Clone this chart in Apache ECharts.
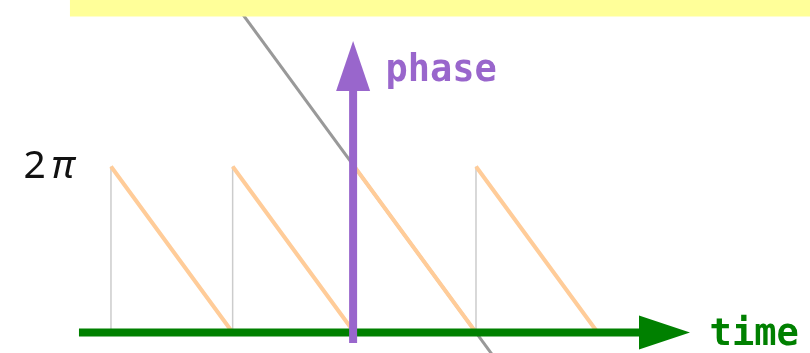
<!DOCTYPE html>
<html>
<head>
<meta charset="utf-8">
<script src="https://cdn.jsdelivr.net/npm/echarts@6/dist/echarts.min.js"></script>
<style>
  html, body { margin: 0; padding: 0; background: #fff; }
  #main { width: 810px; height: 353px; }
</style>
</head>
<body>
<div id="main"></div>
<script>
// time in periods, phase in units of pi
let sawStarts = [0, 1, 2, 3];          // each period starts at phase 2pi and falls to 0
let sawTop = 2;
let sawBottom = 0;
let wrapLines = [0, 1, 2, 3];           // thin gray jumps back to 2pi
let unwrapped = [[1.0, 4.0], [3.2, -0.4]];   // continuous (unwrapped) phase
let band = [-0.337, 3.807, 6, 4.1];     // yellow band: x0, y0, x1, y1
let phaseArrow = [1.99, -0.127, 1.99, 3.512];
let timeArrow = [-0.263, 0, 4.759, 0];

function segments(starts) {
    let out = [];
    starts.forEach(function(s) {
        out.push([s, sawTop]);
        out.push([s + 1, sawBottom]);
        out.push(null);
    });
    return out;
}

function verticals(xs) {
    let out = [];
    xs.forEach(function(x) {
        out.push([x, sawBottom]);
        out.push([x, sawTop]);
        out.push(null);
    });
    return out;
}

function arrowItem(color, shaft, headLen, headWidth) {
    return function(params, api) {
        let a = api.coord([api.value(0), api.value(1)]);
        let b = api.coord([api.value(2), api.value(3)]);
        let dx = b[0] - a[0], dy = b[1] - a[1];
        let len = Math.sqrt(dx * dx + dy * dy);
        let ux = dx / len, uy = dy / len;
        let nx = -uy, ny = ux;
        let base = [b[0] - ux * headLen, b[1] - uy * headLen];
        return {
            type: 'group',
            children: [{
                type: 'line',
                shape: { x1: a[0], y1: a[1], x2: base[0] + ux * 2, y2: base[1] + uy * 2 },
                style: { stroke: color, lineWidth: shaft, lineCap: 'butt' }
            }, {
                type: 'polygon',
                shape: { points: [
                    b,
                    [base[0] + nx * headWidth / 2, base[1] + ny * headWidth / 2],
                    [base[0] - nx * headWidth / 2, base[1] - ny * headWidth / 2]
                ] },
                style: { fill: color }
            }]
        };
    };
}

var myChart = echarts.init(document.getElementById('main'));

var option = {
    animation: false,
    grid: { left: 0, right: 0, top: 0, bottom: 0 },
    xAxis: { type: 'value', min: -0.912, max: 5.745, show: false },
    yAxis: { type: 'value', min: -0.247, max: 4.006, show: false },
    series: [{
        type: 'line',
        data: verticals(wrapLines),
        symbol: 'none',
        z: 1,
        lineStyle: { color: '#cccccc', width: 1.5 }
    }, {
        type: 'line',
        data: unwrapped,
        symbol: 'none',
        z: 2,
        lineStyle: { color: '#999999', width: 3 }
    }, {
        type: 'line',
        data: segments(sawStarts),
        symbol: 'none',
        z: 3,
        lineStyle: { color: '#ffcc99', width: 4 }
    }, {
        type: 'custom',
        renderItem: arrowItem('#008000', 8, 51, 34),
        data: [timeArrow],
        z: 4
    }, {
        type: 'custom',
        renderItem: arrowItem('#9966cc', 8, 50, 34),
        data: [phaseArrow],
        z: 5
    }, {
        type: 'custom',
        renderItem: function(params, api) {
            let p0 = api.coord([api.value(0), api.value(3)]);
            let p1 = api.coord([api.value(2), api.value(1)]);
            return {
                type: 'rect',
                shape: { x: p0[0], y: p0[1], width: p1[0] - p0[0], height: p1[1] - p0[1] },
                style: { fill: '#ffff99' }
            };
        },
        data: [band],
        z: 6
    }, {
        type: 'scatter',
        symbolSize: 0,
        z: 7,
        itemStyle: { opacity: 1 },
        data: [
            { value: [-0.3, 2.0], label: { show: true, position: 'left', distance: 0,
                formatter: '{a|2}{s| }{b|π}',
                rich: {
                    a: { fontFamily: 'Noto Sans', fontSize: 39, color: '#111111' },
                    s: { fontFamily: 'Noto Sans', fontSize: 22 },
                    b: { fontFamily: 'Noto Sans', fontStyle: 'italic', fontSize: 39, color: '#111111' }
                } } },
            { value: [2.256, 3.15], label: { show: true, position: 'right', distance: 0,
                formatter: 'phase', fontFamily: 'DejaVu Sans Mono', fontWeight: 'bold', fontSize: 37, color: '#9966cc' } },
            { value: [4.92, -0.035], label: { show: true, position: 'right', distance: 0,
                formatter: 'time', fontFamily: 'DejaVu Sans Mono', fontWeight: 'bold', fontSize: 37, color: '#008000' } }
        ]
    }]
};

myChart.setOption(option);
</script>
</body>
</html>
